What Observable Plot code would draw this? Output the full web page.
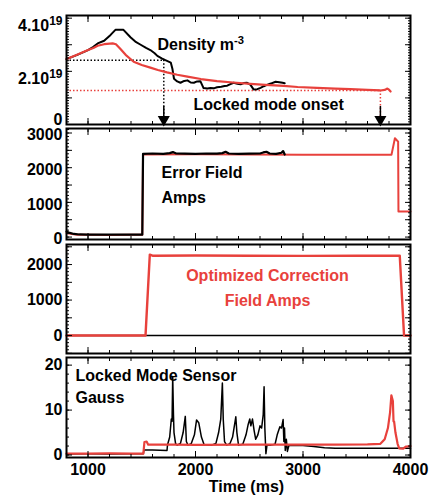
<!DOCTYPE html>
<html><head><meta charset="utf-8">
<script src="https://cdn.jsdelivr.net/npm/d3@7"></script>
<script src="https://cdn.jsdelivr.net/npm/@observablehq/plot@0.6"></script>
<style>
html,body{margin:0;padding:0;background:#fff;}
#chart{position:relative;width:429px;height:495px;overflow:hidden;background:#fff;}
</style></head><body><div id="chart"></div>
<script>
// ---------- data ----------
const xDomain = [800, 4000];
const timeTicks = [1000, 2000, 3000, 4000];
const xLabel = "Time (ms)";

// Panel 1: density (units of 1e19 m^-3)
const densityTicks = [0, 2, 4];
const densityBlackTime = [800,900,1000,1050,1090,1150,1210,1255,1330,1395,1440,1490,1540,1580,1620,1645,1690,1720,1770,1785,1800,1830,1860,1895,1925,1955,1985,2015,2045,2060,2075,2110,2140,2170,2200,2240,2270,2295,2325,2355,2390,2420,2450,2480,2510,2540,2575,2605,2635,2665,2700,2745,2780,2810,2830];
const densityBlack = [2.46,2.62,2.80,2.92,3.05,3.15,3.37,3.56,3.56,3.28,3.12,3.00,2.88,2.80,2.68,2.58,2.48,2.42,2.33,2.10,1.72,1.62,1.57,1.64,1.66,1.58,1.57,1.62,1.63,1.50,1.37,1.35,1.37,1.36,1.40,1.42,1.45,1.46,1.52,1.57,1.53,1.51,1.56,1.57,1.50,1.32,1.33,1.38,1.44,1.49,1.54,1.61,1.59,1.57,1.55];
const densityRedTime = [800,870,930,1000,1050,1090,1150,1230,1260,1300,1350,1425,1500,1580,1650,1735,1830,1925,2050,2200,2350,2510,2650,2820,2950,3130,3300,3440,3600,3720,3760,3785,3800,3815];
const densityRed = [2.46,2.58,2.68,2.80,2.88,2.96,3.02,3.05,3.02,2.85,2.62,2.36,2.24,2.14,2.05,1.96,1.87,1.80,1.71,1.63,1.58,1.53,1.49,1.45,1.41,1.38,1.35,1.33,1.30,1.28,1.30,1.35,1.31,1.24];
const onsetTime = [1705, 3720];
const onsetDensity = [2.42, 1.28];

// Panel 2: error field amps
const ampTicks = [0, 1000, 2000, 3000];
const errorBlackTime = [800,830,870,920,1000,1100,1200,1300,1400,1505,1512,1600,1700,1760,1790,1820,1900,2000,2100,2200,2250,2280,2310,2400,2500,2600,2630,2660,2690,2750,2800,2815,2830];
const errorBlack = [160,120,90,75,70,72,68,70,72,70,2400,2410,2400,2420,2450,2410,2405,2400,2410,2405,2420,2460,2410,2400,2405,2410,2440,2460,2410,2400,2430,2480,2380];
const errorRedTime = [800,850,900,1000,1200,1400,1505,1512,2000,2500,3000,3500,3823,3855,3870,3885,3888,4000];
const errorRed = [120,90,70,65,62,65,65,2380,2385,2380,2375,2375,2370,2850,2800,2750,735,735];

// Panel 3: optimized correction field amps
const corrTicks = [0, 1000, 2000];
const corrRedTime = [800,1535,1575,1600,2000,2500,3000,3500,3900,3940,4000];
const corrRed = [0,0,2280,2250,2255,2250,2245,2250,2250,0,0];
const corrBlackTime = [800, 4000];
const corrBlack = [0, 0];

// Panel 4: locked mode sensor (Gauss)
const gaussTicks = [0, 10, 20];
const sensorBlackTime = [800,1000,1200,1400,1515,1520,1600,1735,1740,1760,1775,1782,1788,1795,1800,1815,1830,1860,1885,1905,1915,1930,1960,1990,2010,2030,2055,2080,2150,2190,2215,2235,2250,2258,2270,2290,2320,2345,2375,2385,2400,2440,2470,2490,2505,2515,2530,2545,2560,2580,2600,2615,2630,2638,2645,2655,2665,2700,2740,2760,2785,2800,2815,2822,2828,2835,2845,2855,2870,3000,3100,3200,3300,3500,3700,3900,4000];
const sensorBlack = [0.25,0.3,0.25,0.3,0.3,1.1,1.1,1.0,2.3,4.0,8.0,7.5,17.5,9,5,2.5,2.2,2.6,5,8.6,3,2.2,2.5,4.5,7.8,7.2,4,2.3,2.2,2.6,5,8,16,8,3,2.2,2.5,4,8.5,5,2.2,2.4,4.5,6.8,8.0,6.5,8.0,5.5,3.5,4.5,6.5,6.0,9,15.2,6,0.3,2.2,2.2,2.4,4.5,6.3,6.0,7.9,3,6,1.0,3.5,0.8,2.2,2.1,1.9,1.6,1.5,1.5,1.5,1.5,1.5];
const sensorRedTime = [800,1000,1200,1400,1515,1525,1545,1560,1800,2000,2500,3000,3300,3600,3720,3760,3790,3810,3822,3836,3842,3848,3860,3880,3895,3930,3960,4000];
const sensorRed = [0.3,0.3,0.35,0.3,0.3,2.9,3.0,2.3,2.3,2.25,2.3,2.3,2.3,2.35,2.5,3.5,6.0,9.5,13.3,12.0,7.5,7.4,5.0,2.5,1.5,1.4,1.9,2.0];

const labelDensity = "Density m";
const labelDensityExp = "-3";
const labelOnset = "Locked mode onset";
const labelError = "Error Field\nAmps";
const labelCorr = "Optimized Correction\nField Amps";
const labelSensor = "Locked Mode Sensor\nGauss";

// ---------- helpers ----------
const rows = (t, v) => t.map((x, i) => ({t: x, v: v[i]}));
const onsetRows = onsetTime.map((t, i) => ({t, level: onsetDensity[i]}));
const FONT = "'Liberation Sans',Arial,Helvetica,sans-serif";
const RED = "#e8413c";
const chart = document.getElementById("chart");
const xMinor = d3.range(800, 4001, 200);
const xMajor = d3.range(1000, 4001, 1000);
const blank = () => "";

function inwardTicks(yMinor, yMajor) {
  const o = {label: null, tickFormat: blank, tickPadding: 0};
  return [
    Plot.axisX({...o, anchor: "bottom", ticks: xMinor, tickSize: -3}),
    Plot.axisX({...o, anchor: "bottom", ticks: xMajor, tickSize: -6}),
    Plot.axisX({...o, anchor: "top", ticks: xMinor, tickSize: -3}),
    Plot.axisX({...o, anchor: "top", ticks: xMajor, tickSize: -6}),
    Plot.axisY({...o, anchor: "left", ticks: yMinor, tickSize: -3}),
    Plot.axisY({...o, anchor: "left", ticks: yMajor, tickSize: -6}),
    Plot.axisY({...o, anchor: "right", ticks: yMinor, tickSize: -3}),
    Plot.axisY({...o, anchor: "right", ticks: yMajor, tickSize: -6})
  ];
}

function panel({top, height, mt, mb, yDomain, yMinor, yMajor, marks}) {
  const svg = Plot.plot({
    width: 429, height,
    marginLeft: 66, marginRight: 19, marginTop: mt, marginBottom: mb,
    style: `font-family:${FONT};font-size:16px;font-weight:bold;color:black;background:transparent;overflow:visible;`,
    x: {domain: xDomain},
    y: {domain: yDomain},
    marks: [
      ...marks,
      ...inwardTicks(yMinor, yMajor),
      Plot.frame({stroke: "black", strokeWidth: 2})
    ]
  });
  svg.style.position = "absolute";
  svg.style.left = "0px";
  svg.style.top = top + "px";
  chart.append(svg);
  return svg;
}

// ---------- panel 1 ----------
const p1 = panel({
  top: 0, height: 126, mt: 15, mb: 2,
  yDomain: [0, 4.1],
  yMinor: d3.range(0, 41).map(d => d / 10),
  yMajor: [0, 1, 2, 3, 4],
  marks: [
    Plot.ruleY(onsetRows, {filter: (d, i) => i === 0, y: "level", x1: xDomain[0], x2: "t", stroke: "black", strokeWidth: 1.5, strokeDasharray: "1.5,2"}),
    Plot.ruleY(onsetRows, {filter: (d, i) => i === 1, y: "level", x1: xDomain[0], x2: "t", stroke: RED, strokeWidth: 1.5, strokeDasharray: "1.5,2"}),
    Plot.ruleX(onsetRows, {filter: (d, i) => i === 0, x: "t", y1: "level", y2: 0, stroke: "black", strokeWidth: 1.5, strokeDasharray: "1.5,2"}),
    Plot.ruleX(onsetRows, {filter: (d, i) => i === 1, x: "t", y1: "level", y2: 0, stroke: RED, strokeWidth: 1.5, strokeDasharray: "1.5,2"}),
    Plot.line(rows(densityBlackTime, densityBlack), {x: "t", y: "v", stroke: "black", strokeWidth: 2}),
    Plot.line(rows(densityRedTime, densityRed), {x: "t", y: "v", stroke: RED, strokeWidth: 2.2}),
    Plot.ruleX(onsetRows, {x: "t", insetTop: 91, insetBottom: 6, stroke: "black", strokeWidth: 1.5}),
    Plot.dot(onsetRows, {x: "t", frameAnchor: "bottom", dy: -5, symbol: "triangle", rotate: 180, r: 4.5, fill: "black", stroke: "none"}),
    Plot.axisY({anchor: "left", ticks: densityTicks.filter(d => d !== 0), tickSize: 0, tickPadding: 4, dy: 8, label: null, tickFormat: d => `${d}.10`}),
    Plot.axisY({anchor: "left", ticks: densityTicks.filter(d => d === 0), tickSize: 0, tickPadding: 4, dy: -5, label: null, tickFormat: d => `${d}`}),
    Plot.text([labelDensity], {text: d => d, frameAnchor: "top-left", dx: 91, dy: 29, textAnchor: "start", lineAnchor: "middle"}),
    Plot.text([labelOnset], {text: d => d, frameAnchor: "top-left", dx: 127, dy: 89, textAnchor: "start", lineAnchor: "middle"})
  ]
});
d3.select(p1).selectAll("text").each(function() {
  const s = d3.select(this);
  const t = s.text();
  if (/^\d\.10$/.test(t)) s.append("tspan").attr("dy", "-0.55em").attr("font-size", "0.75em").text("19");
  if (t === labelDensity) s.append("tspan").attr("dy", "-0.5em").attr("font-size", "0.7em").text(labelDensityExp);
});

// ---------- panel 2 ----------
panel({
  top: 126, height: 115, mt: 2, mb: 2,
  yDomain: [-70, 3130],
  yMinor: d3.range(0, 3101, 100),
  yMajor: d3.range(0, 3001, 500),
  marks: [
    Plot.line(rows(errorRedTime, errorRed), {x: "t", y: "v", stroke: RED, strokeWidth: 2}),
    Plot.line(rows(errorBlackTime, errorBlack), {x: "t", y: "v", stroke: "black", strokeWidth: 2.2}),
    Plot.axisY({anchor: "left", ticks: ampTicks, tickSize: 0, tickPadding: 4, dy: 2, label: null, tickFormat: d => `${d}`}),
    Plot.text([labelError], {text: d => d, frameAnchor: "top-left", dx: 95, dy: 54, textAnchor: "start", lineAnchor: "middle", lineHeight: 1.56})
  ]
});

// ---------- panel 3 ----------
panel({
  top: 241, height: 114, mt: 3, mb: 2,
  yDomain: [-505, 2565],
  yMinor: d3.range(-500, 2501, 100),
  yMajor: d3.range(-500, 2501, 500),
  marks: [
    Plot.line(rows(corrBlackTime, corrBlack), {x: "t", y: "v", stroke: "black", strokeWidth: 1.5}),
    Plot.line(rows(corrRedTime, corrRed), {x: "t", y: "v", stroke: RED, strokeWidth: 2.4}),
    Plot.axisY({anchor: "left", ticks: corrTicks, tickSize: 0, tickPadding: 4, label: null, tickFormat: d => `${d}`}),
    Plot.text([labelCorr], {text: d => d, frameAnchor: "top-left", dx: 201, dy: 41, textAnchor: "middle", lineAnchor: "middle", lineHeight: 1.56, fill: RED})
  ]
});

// ---------- panel 4 ----------
panel({
  top: 355, height: 140, mt: 2, mb: 38,
  yDomain: [-0.55, 21.7],
  yMinor: d3.range(0, 21, 2),
  yMajor: [0, 10, 20],
  marks: [
    Plot.line(rows(sensorBlackTime, sensorBlack), {x: "t", y: "v", stroke: "black", strokeWidth: 1.5}),
    Plot.line(rows(sensorRedTime, sensorRed), {x: "t", y: "v", stroke: RED, strokeWidth: 2.2}),
    Plot.axisY({anchor: "left", ticks: gaussTicks, tickSize: 0, tickPadding: 4, label: null, tickFormat: d => `${d}`}),
    Plot.axisX({anchor: "bottom", ticks: timeTicks, tickSize: 0, tickPadding: 6, label: null, tickFormat: d => `${d}`}),
    Plot.text([labelSensor], {text: d => d, frameAnchor: "top-left", dx: 9, dy: 27, textAnchor: "start", lineAnchor: "middle", lineHeight: 1.375}),
    Plot.text([xLabel], {text: d => d, frameAnchor: "bottom", dx: 8, dy: 29, textAnchor: "middle", lineAnchor: "middle"})
  ]
});
</script></body></html>
